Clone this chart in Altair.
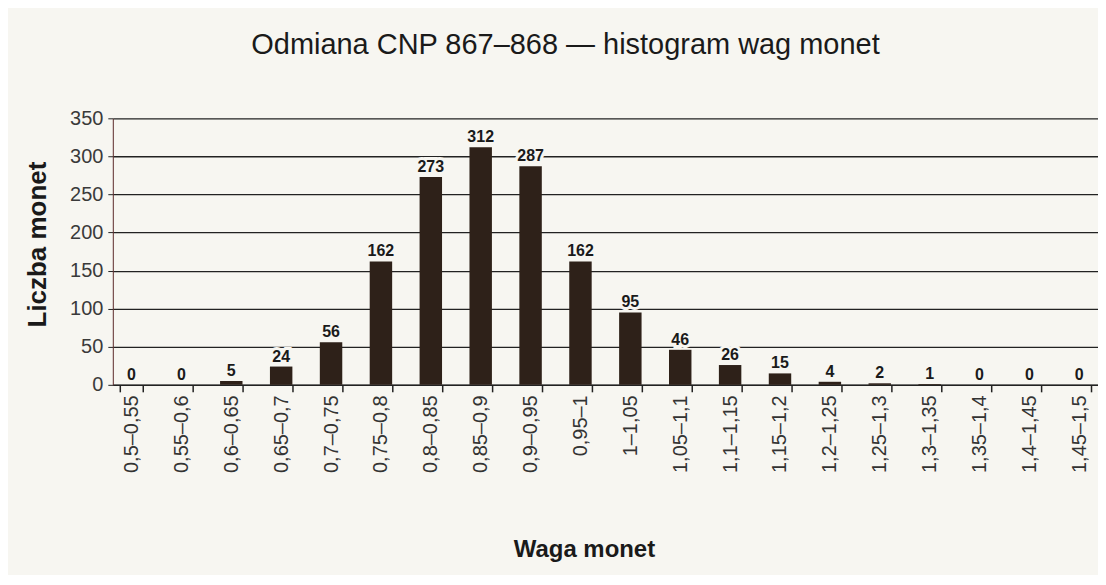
import altair as alt
import pandas as pd

categories = ["0,5–0,55", "0,55–0,6", "0,6–0,65", "0,65–0,7", "0,7–0,75", "0,75–0,8",
              "0,8–0,85", "0,85–0,9", "0,9–0,95", "0,95–1", "1–1,05", "1,05–1,1",
              "1,1–1,15", "1,15–1,2", "1,2–1,25", "1,25–1,3", "1,3–1,35", "1,35–1,4",
              "1,4–1,45", "1,45–1,5"]
counts = [0, 0, 5, 24, 56, 162, 273, 312, 287, 162, 95, 46, 26, 15, 4, 2, 1, 0, 0, 0]
y_ticks = [0, 50, 100, 150, 200, 250, 300, 350]

df = pd.DataFrame({"kat": categories, "n": counts})

FONT = "Liberation Sans"
BG = "#f7f6f1"

x = alt.X("kat:N", sort=categories, title="Waga monet",
          scale=alt.Scale(paddingInner=0.55, paddingOuter=0.15),
          axis=alt.Axis(labelAngle=-90, labelFontSize=20, labelColor="#333333",
                        labelFont=FONT, labelPadding=3, tickBand="extent",
                        tickSize=7, tickColor="#222222", tickWidth=1.5,
                        domainColor="#222222", domainWidth=1.5,
                        titleFontSize=24, titleFont=FONT, titleFontWeight="bold",
                        titleColor="#1a1a1a", titleX=472, titleY=165,
                        titleBaseline="middle", titleAnchor="middle"))
y = alt.Y("n:Q", title="Liczba monet",
          scale=alt.Scale(domain=[0, 350], nice=False),
          axis=alt.Axis(values=y_ticks, labelFontSize=20, labelOverlap=False,
                        labelColor="#3a3a3a", labelFont=FONT, labelPadding=5,
                        tickSize=5, tickColor="#222222", domainColor="#5a2a2a",
                        domainWidth=1, gridColor="#222222", gridWidth=1.3,
                        titleFontSize=26, titleFont=FONT, titleFontWeight="bold",
                        titleColor="#1a1a1a", titleX=-75, titleY=126,
                        titleAngle=-90, titleBaseline="middle"))

base = alt.Chart(df).encode(x=x, y=y)
bars = base.mark_bar(color="#2e2119")
halo = base.mark_text(dy=-10, fontSize=16, fontWeight="bold", font=FONT,
                      color=BG, stroke=BG, strokeWidth=6).encode(text="n:Q")
labels = base.mark_text(dy=-10, fontSize=16, fontWeight="bold", font=FONT,
                        color="#1a1a1a").encode(text="n:Q")

chart = (bars + halo + labels).properties(
    width=987, height=267,
    padding={"left": 105, "top": 110, "right": 0, "bottom": 190},
    autosize=alt.AutoSizeParams(type="none"),
    background=BG,
    title=alt.TitleParams("Odmiana CNP 867–868 — histogram wag monet", fontSize=29,
                          font=FONT, fontWeight="normal", color="#1a1a1a",
                          anchor="middle", offset=48, dx=-40),
).configure_view(stroke=None)

chart.save("out.html", embed_options={"renderer": "svg", "actions": False})
